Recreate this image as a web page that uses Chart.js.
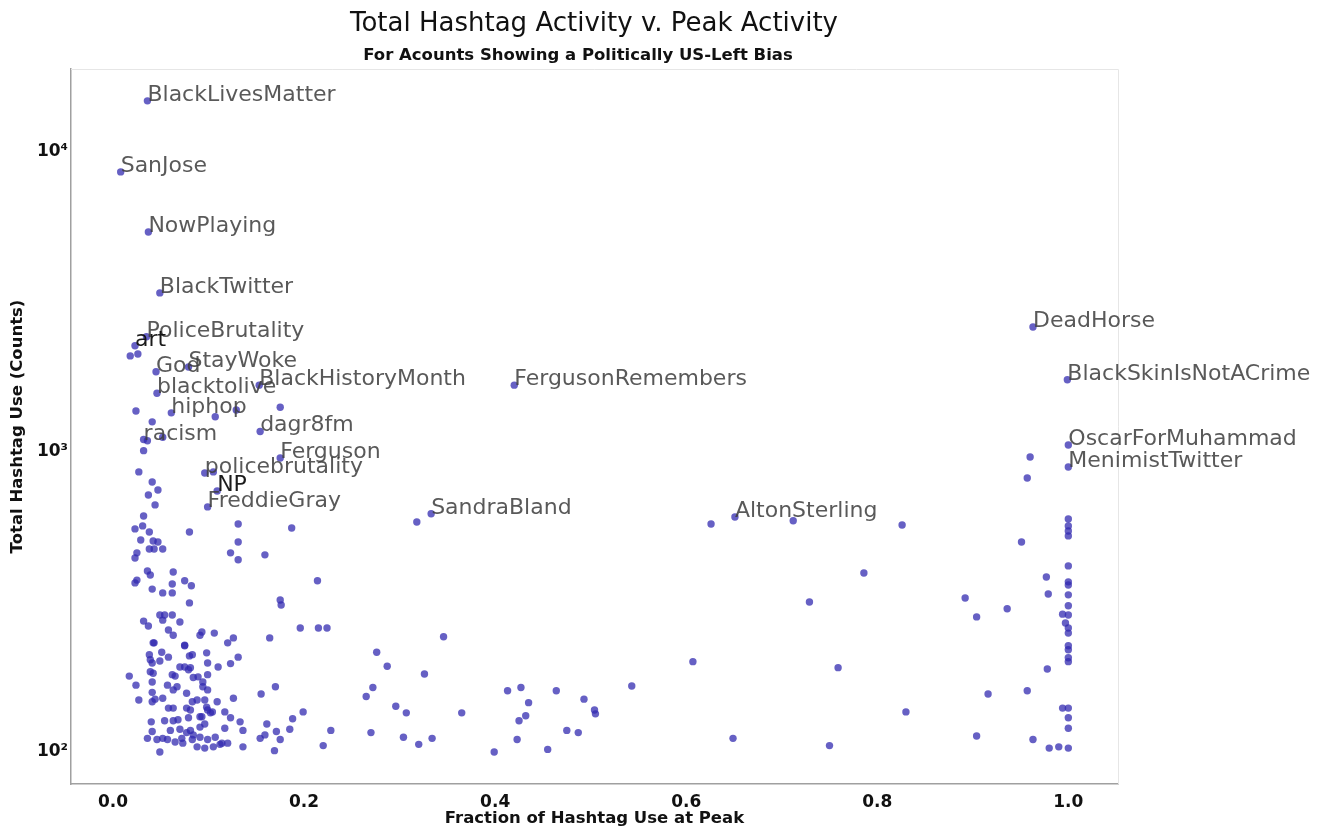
<!DOCTYPE html>
<html><head><meta charset="utf-8">
<script src="https://cdn.jsdelivr.net/npm/chart.js@4/dist/chart.umd.min.js"></script>
<style>html,body{margin:0;padding:0;background:#fff;}#wrap{width:1329px;height:835px;}</style>
</head><body><div id="wrap"><canvas id="c" width="1329" height="835"></canvas></div>
<script>
// ---- DATA ----
const titleText = 'Total Hashtag Activity v. Peak Activity';
const subtitleText = 'For Acounts Showing a Politically US-Left Bias';
const xTitle = 'Fraction of Hashtag Use at Peak';
const yTitle = 'Total Hashtag Use (Counts)';
const xTickValues = [0, 0.2, 0.4, 0.6, 0.8, 1.0];
const yTickValues = [100, 1000, 10000];
const yTickLabels = ['10\u00B2', '10\u00B3', '10\u2074'];

const labelNames = ['BlackLivesMatter','SanJose','NowPlaying','BlackTwitter','PoliceBrutality','art','StayWoke','God','blacktolive','BlackHistoryMonth','FergusonRemembers','hiphop','racism','dagr8fm','Ferguson','policebrutality','NP','FreddieGray','SandraBland','AltonSterling','DeadHorse','BlackSkinIsNotACrime','OscarForMuhammad','MenimistTwitter'];
const labelFrac  = [0.036,0.008,0.037,0.049,0.035,0.023,0.079,0.045,0.046,0.153,0.420,0.061,0.032,0.154,0.175,0.096,0.109,0.099,0.333,0.651,0.963,0.999,1.0,1.0];
const labelTotal = [14800,8580,5410,3390,2420,2260,1920,1850,1570,1670,1670,1350,1100,1170,955,851,741,656,622,607,2610,1740,1055,891];
const darkLabels = ['art','NP'];

const upperPoints = [[0.018,2090],[0.026,2120],[0.024,1370],[0.107,1310],[0.129,1380],[0.175,1410],[0.041,1260],[0.036,1090],[0.052,1120],[0.032,1010],[0.027,858],[0.105,858],[0.041,794],[0.047,747],[0.037,719],[0.044,666],[0.318,584],[0.626,575],[0.712,590],[0.826,571],[0.960,962],[0.957,819]];
const bandPoints = [[0.032,612],[0.023,554],[0.031,567],[0.038,541],[0.080,541],[0.131,575],[0.187,558],[0.029,509],[0.042,505],[0.047,501],[0.038,475],[0.043,475],[0.052,475],[0.025,461],[0.023,443],[0.131,501],[0.123,461],[0.131,437],[0.159,454]];
const midLeftPoints = [[0.036,401],[0.039,389],[0.063,398],[0.025,374],[0.023,366],[0.075,372],[0.082,358],[0.062,363],[0.041,349],[0.052,339],[0.062,339],[0.080,314],[0.214,372],[0.175,321],[0.176,309],[0.032,273],[0.037,263],[0.049,286],[0.054,286],[0.062,286],[0.052,275],[0.070,271],[0.058,255],[0.063,245],[0.043,231],[0.075,226],[0.091,245],[0.093,251],[0.106,249],[0.120,231],[0.126,240],[0.196,259],[0.215,259],[0.224,259],[0.164,240]];
const lowLeftPoints = [[0.038,211],[0.041,198],[0.051,215],[0.058,207],[0.039,185],[0.049,201],[0.017,179],[0.024,167],[0.041,171],[0.042,183],[0.062,181],[0.065,179],[0.080,209],[0.098,214],[0.099,198],[0.110,192],[0.123,197],[0.131,207],[0.075,192],[0.081,191],[0.084,177],[0.094,171],[0.099,181],[0.079,188],[0.094,165],[0.057,167],[0.063,161],[0.067,165],[0.155,156],[0.170,165],
  [0.041,158],[0.039,203],[0.042,231],[0.070,192],[0.075,227],[0.083,211],[0.089,178],[0.093,131],[0.098,141],[0.077,140],[0.079,130],[0.068,128],[0.072,111],[0.091,112]];
const bottomLeftPoints = [[0.027,149],[0.041,147],[0.044,150],[0.052,151],[0.058,140],[0.063,140],[0.077,157],[0.083,147],[0.088,149],[0.099,161],[0.096,149],[0.109,147],[0.126,151],[0.081,138],[0.091,131],[0.102,135],[0.099,138],[0.117,136],[0.123,130],[0.133,126],[0.040,126],[0.054,127],[0.063,127],[0.041,117],[0.060,118],[0.070,119],[0.081,118],[0.091,121],[0.096,124],[0.084,114],[0.077,116],[0.052,111],[0.036,111],[0.046,110],[0.057,110],[0.065,108],[0.073,107],[0.083,110],[0.088,104],[0.096,103],[0.099,110],[0.105,104],[0.112,106],[0.120,107],[0.136,104],[0.049,100],[0.117,120],[0.136,118],[0.154,111],[0.159,114],[0.161,124],[0.171,117],[0.175,110],[0.169,101],[0.185,119],[0.188,129],[0.199,136],[0.220,105],[0.228,118],[0.276,215],[0.287,193],[0.272,164],[0.265,153],[0.296,142],[0.270,116],[0.107,112],[0.114,107],[0.104,136]];
const middlePoints = [[0.326,182],[0.346,242],[0.307,135],[0.365,135],[0.304,112],[0.320,106],[0.334,111],[0.399,100],[0.413,160],[0.427,164],[0.435,146],[0.425,127],[0.432,132],[0.423,110],[0.464,160],[0.475,118],[0.487,116],[0.493,150],[0.504,138],[0.505,134],[0.455,102],[0.543,166],[0.607,200],[0.649,111],[0.729,316],[0.759,191],[0.750,105],[0.786,395]];
const rightPoints = [[0.830,136],[0.892,326],[0.904,282],[0.936,300],[0.916,156],[0.904,113],[0.957,160],[0.963,110],[0.951,501],[0.977,383],[0.979,336],[0.978,189],[0.994,288],[0.997,269],[0.994,140],[0.980,103],[0.990,104],[1.0,103]];
const fullPeakTotals = [598,567,545,525,417,369,360,334,307,286,259,249,226,219,206,200,140,130,120];

// ---- BUILD ----
const pts = [];
labelFrac.forEach((f,i)=>pts.push({x:f,y:labelTotal[i]}));
[upperPoints,bandPoints,midLeftPoints,lowLeftPoints,bottomLeftPoints,middlePoints,rightPoints].forEach(g=>g.forEach(p=>pts.push({x:p[0],y:p[1]})));
fullPeakTotals.forEach(t=>pts.push({x:1.0,y:t}));

const FONT = "'DejaVu Sans', 'Liberation Sans', sans-serif";

const annotatePlugin = {
  id:'annotate',
  afterDatasetsDraw(chart){
    const ctx = chart.ctx, xs = chart.scales.x, ys = chart.scales.y, ca = chart.chartArea;
    ctx.save();
    ctx.strokeStyle = '#e6e6e6'; ctx.lineWidth = 1;
    ctx.beginPath();
    ctx.moveTo(ca.left, ca.top+0.5); ctx.lineTo(ca.right+0.5, ca.top+0.5);
    ctx.lineTo(ca.right+0.5, ca.bottom);
    ctx.stroke();
    ctx.font = '22px ' + FONT;
    ctx.textAlign = 'left'; ctx.textBaseline = 'alphabetic';
    labelNames.forEach((n,i)=>{
      ctx.fillStyle = darkLabels.includes(n) ? 'rgba(15,15,15,0.95)' : 'rgba(60,60,60,0.85)';
      ctx.fillText(n, xs.getPixelForValue(labelFrac[i]), ys.getPixelForValue(labelTotal[i]));
    });
    ctx.fillStyle = '#111';
    ctx.textAlign = 'center';
    ctx.font = '26px ' + FONT;
    ctx.fillText(titleText, 594, 31);
    ctx.font = 'bold 16.5px ' + FONT;
    ctx.fillText(subtitleText, 578, 60);
    ctx.restore();
  }
};

new Chart(document.getElementById('c'), {
  type:'scatter',
  data:{datasets:[{data:pts, backgroundColor:'rgba(48,40,175,0.74)', borderWidth:0, pointRadius:3.7, pointHoverRadius:3.7}]},
  options:{
    responsive:false, animation:false, devicePixelRatio:1,
    layout:{padding:{left:0,right:211,top:69,bottom:0}},
    plugins:{legend:{display:false}, tooltip:{enabled:false}, title:{display:false}},
    scales:{
      x:{type:'linear', min:-0.044, max:1.052,
        afterBuildTicks:s=>{s.ticks = xTickValues.map(v=>({value:v}));},
        afterFit:s=>{s.height = 51;},
        grid:{display:false, drawTicks:false},
        border:{display:true, color:'#a0a0a0', width:1.5},
        ticks:{autoSkip:false, maxRotation:0, padding:8, color:'#111', font:{family:FONT, size:17, weight:'bold'}, callback:v=>Number(v).toFixed(1)},
        title:{display:true, text:xTitle, color:'#111', font:{family:FONT, size:16.5, weight:'bold'}, padding:{top:0,bottom:6}}
      },
      y:{type:'logarithmic', min:78.2, max:18900,
        afterBuildTicks:s=>{s.ticks = yTickValues.map(v=>({value:v}));},
        afterFit:s=>{s.width = 71;},
        grid:{display:false, drawTicks:false},
        border:{display:true, color:'#a0a0a0', width:1.5},
        ticks:{autoSkip:false, padding:3, color:'#111', font:{family:FONT, size:17, weight:'bold'}, callback:(v)=>{const k=yTickValues.indexOf(Number(v)); return k>=0?yTickLabels[k]:'';}},
        title:{display:true, text:yTitle, color:'#111', font:{family:FONT, size:16.5, weight:'bold'}, padding:{top:8,bottom:0}}
      }
    }
  },
  plugins:[annotatePlugin]
});
</script></body></html>
